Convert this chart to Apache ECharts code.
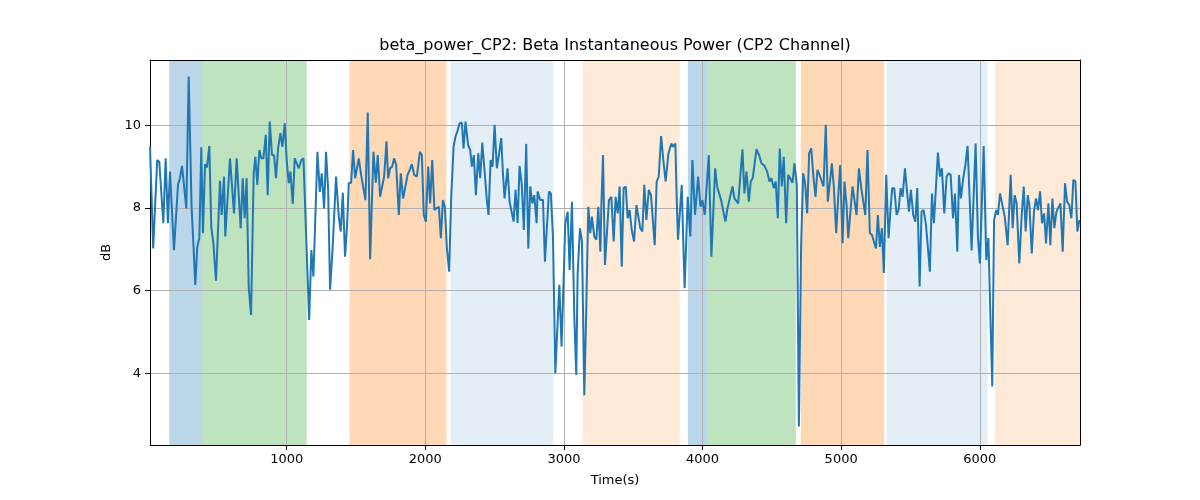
<!DOCTYPE html>
<html>
<head>
<meta charset="utf-8">
<script src="https://cdn.jsdelivr.net/npm/echarts@6/dist/echarts.min.js"></script>
<style>html,body{margin:0;padding:0;background:#fff}#chart{width:1200px;height:500px}</style>
</head>
<body>
<div id="chart"></div>
<script>
const timeSec = [14,37,66,81,110,127,143,158,187,216,230,245,276,293,314,341,355,370,384,396,411,425,442,456,471,490,519,531,548,
557,591,620,639,668,683,697,711,726,743,762,774,788,803,817,832,849,863,878,894,909,923,938,955,969,986,1000,1015,1027,1044,1058,1072,1087,1106,
1121,1162,1178,1193,1222,1239,1253,1270,1284,1299,1313,1332,1356,1376,1390,1405,1421,1436,1448,1465,1479,1494,1520,1537,1551,1568,1585,1602,1626,1643,1657,1674,
1703,1713,1720,1732,1746,1761,1775,1790,1809,1823,1840,1852,1872,1888,1903,1920,1939,1961,1975,1989,2004,2021,2035,2050,2066,2081,2098,2112,2127,2141,2156,2172,2187,2204,2218,2235,
2247,2264,2276,2290,2309,2324,2336,2350,2365,2382,2396,2411,2427,2444,2456,2471,2485,2500,2516,2531,2548,2560,2572,2581,2593,2608,2622,2637,2651,2666,2680,2695,2711,2728,2743,2757,2772,2786,2803,
2810,2829,2849,2863,2892,2906,2921,2938,2967,2983,3010,3027,3041,3058,3075,3089,3099,3116,3130,3147,3162,3176,3190,3202,3219,3234,3248,3263,3270,3282,3296,3325,3342,3359,
3373,3388,3402,3417,3431,3446,3460,3474,3489,3506,3523,3535,3551,3566,3580,3595,3612,3628,3655,3669,3684,3701,3717,3734,3754,3775,3787,3804,3814,3823,3850,3862,3871,3893,3912,3927,
3946,3968,3985,3999,4016,4045,4064,4091,4105,4119,4134,4148,4165,4180,4216,4230,4257,4288,4302,4317,4334,4348,4362,4389,4408,4425,4447,4466,4483,4497,
4514,4528,4543,4557,4572,4586,4603,4618,4632,4649,4663,4680,4695,4711,4726,4740,4755,4769,4784,4800,4815,4829,4844,4858,4873,4889,4904,4933,4947,4964,4979,4993,5010,5024,5039,5051,
5082,5111,5128,5147,5174,5190,5207,5222,5236,5251,5265,5279,5294,5308,5325,5342,5354,5368,5383,5400,5414,5429,5443,5460,5474,5489,5503,5520,5535,5549,5566,5580,5595,5612,
5626,5640,5655,5669,5698,5713,5727,5744,5761,5775,5790,5807,5821,5838,5850,5864,5879,5896,5912,5927,5941,5970,5987,6001,6028,6047,6062,6090,6103,6119,6131,6146,6160,6180,
6201,6223,6237,6252,6266,6285,6302,6317,6331,6346,6358,6375,6391,6406,6420,6435,6449,6464,6478,6495,6509,6524,6538,6553,6567,6582,6598,6615,6630,6646,6661,6675,6690,6704,6719];

const betaDb = [9.48,7.02,9.16,9.12,7.63,9.20,7.63,8.88,6.98,8.56,8.72,9.02,7.99,11.18,8.03,6.14,7.06,7.27,9.47,7.39,9.06,8.98,9.50,7.55,7.15,6.24,8.66,7.83,8.76,
7.31,9.20,7.87,9.20,7.51,8.72,7.75,8.72,6.10,5.41,8.84,9.24,8.56,9.40,9.20,9.20,9.77,8.31,10.09,9.28,9.28,8.72,9.44,9.81,9.48,10.05,9.16,8.60,8.88,8.10,9.20,9.24,8.96,9.16,
9.20,5.29,6.98,6.34,9.36,8.39,8.84,7.99,9.36,8.44,6.02,7.06,8.76,7.79,7.43,8.37,6.82,7.59,8.60,8.61,9.40,8.72,9.20,8.80,8.76,8.19,10.31,6.76,9.36,8.61,9.28,8.27,
8.76,8.72,9.61,8.72,8.96,9.00,9.20,9.04,7.83,8.84,8.23,8.19,8.80,8.92,9.06,8.80,8.76,9.36,9.28,7.83,7.67,9.00,8.11,9.16,7.95,7.99,8.03,7.27,8.19,8.03,7.02,6.46,8.27,9.48,9.73,9.89,
10.05,10.06,9.44,10.09,9.52,9.40,9.00,9.28,8.31,9.32,8.72,9.58,8.92,8.19,7.83,9.16,9.00,10.01,8.96,9.28,9.69,8.84,8.23,8.23,8.96,8.15,8.11,7.67,8.44,7.64,9.02,8.60,7.47,9.55,7.02,8.52,8.11,8.31,7.63,
8.40,8.19,8.19,6.70,8.40,8.35,7.31,4.00,6.14,4.64,7.63,7.91,6.50,8.15,5.37,3.96,6.42,7.51,7.19,3.47,5.69,8.03,7.39,7.79,7.31,7.23,8.03,6.94,8.03,9.28,6.62,8.19,8.27,7.19,
8.27,7.87,8.52,6.58,8.48,8.52,7.75,7.95,7.47,7.19,8.07,8.11,7.51,7.43,8.56,7.71,8.44,8.31,7.10,8.64,8.76,9.74,9.16,8.64,9.32,9.56,9.48,9.56,8.19,7.23,8.56,7.06,6.06,8.27,7.31,9.16,
7.83,8.76,8.03,8.19,7.83,9.28,6.82,8.96,8.52,8.52,8.19,8.23,7.67,7.99,8.52,8.23,8.11,9.42,8.35,8.88,8.15,8.64,8.72,9.42,9.28,9.08,9.02,8.88,8.64,8.72,
8.48,8.64,7.75,9.44,8.52,9.24,7.63,8.80,8.72,8.61,9.08,8.56,2.71,7.06,8.84,8.60,7.87,9.32,9.44,8.76,8.27,8.92,8.80,8.84,8.52,10.01,8.15,9.08,8.52,7.39,8.27,9.04,7.15,8.64,8.07,7.27,
8.52,7.83,8.96,8.44,7.83,9.40,7.39,7.35,7.19,7.02,7.83,7.06,7.51,6.43,8.80,7.27,7.87,8.48,8.48,7.83,7.95,8.48,8.27,8.96,8.44,7.91,8.44,7.83,7.67,8.48,6.10,7.91,7.95,7.59,
7.59,6.46,8.35,7.63,9.34,8.76,8.96,7.87,8.76,8.84,8.80,7.75,8.35,6.94,8.80,8.23,8.68,9.04,9.50,8.23,6.97,9.56,7.27,6.66,9.50,6.74,7.27,3.68,7.71,7.95,7.83,8.35,8.35,7.79,
7.10,8.80,7.51,8.31,8.11,6.66,7.79,8.52,7.43,8.31,8.07,6.90,7.91,8.23,7.95,8.40,7.63,7.87,7.14,8.11,7.10,8.23,7.51,7.91,7.91,8.11,6.94,8.60,8.15,8.07,7.75,8.68,8.64,7.43,7.71];

const regionStart = [153, 391, 1453, 2182, 3135, 3894, 4033, 4709, 5328, 6110];
const regionEnd   = [391, 1145, 2153, 2923, 3836, 4033, 4673, 5311, 6057, 6723];
const regionKind  = ['blue','green','orange','lightblue','lightorange','blue','green','orange','lightblue','lightorange'];
const xTicks = [1000, 2000, 3000, 4000, 5000, 6000];
const yTicks = [4, 6, 8, 10];

const kindColor = {
  blue: 'rgba(31,119,180,0.3)',
  green: 'rgba(44,160,44,0.3)',
  orange: 'rgba(255,127,14,0.3)',
  lightblue: 'rgba(31,119,180,0.12)',
  lightorange: 'rgba(255,127,14,0.16)'
};

const lineData = timeSec.map((t, i) => [t, betaDb[i]]);
const areas = regionStart.map((s, i) => [
  { xAxis: s, itemStyle: { color: kindColor[regionKind[i]] } },
  { xAxis: regionEnd[i] }
]);

const FONT = 'DejaVu Sans';
const chart = echarts.init(document.getElementById('chart'), null, { renderer: 'canvas' });
chart.setOption({
  animation: false,
  backgroundColor: '#ffffff',
  textStyle: { fontFamily: FONT },
  graphic: [{
    type: 'text', x: 615, y: 46, z: 10,
    style: { text: 'beta_power_CP2: Beta Instantaneous Power (CP2 Channel)', font: '16px "DejaVu Sans"', fill: '#000', textAlign: 'center', textVerticalAlign: 'middle' }
  }],
  grid: { left: 150, right: 120, top: 60, bottom: 55, containLabel: false },
  xAxis: [{
    type: 'value', min: 14, max: 6723, z: 2,
    name: 'Time(s)', nameLocation: 'middle', nameGap: 29,
    nameTextStyle: { fontFamily: FONT, fontSize: 13, color: '#000' },
    axisLine: { show: true, onZero: false, lineStyle: { color: '#000', width: 1 } },
    axisTick: { show: true, length: 5, customValues: xTicks, lineStyle: { color: '#000' } },
    axisLabel: { customValues: xTicks, formatter: v => String(v), margin: 8, fontFamily: FONT, fontSize: 13, color: '#000' },
    splitLine: { show: true, lineStyle: { color: '#b0b0b0', width: 1 } }
  }, {
    type: 'value', position: 'top', min: 14, max: 6723, z: 2,
    axisLine: { show: true, onZero: false, lineStyle: { color: '#000', width: 1 } },
    axisTick: { show: false }, axisLabel: { show: false }, splitLine: { show: false }
  }],
  yAxis: [{
    type: 'value', min: 2.265, max: 11.58, z: 2,
    name: 'dB', nameLocation: 'middle', nameGap: 34,
    nameTextStyle: { fontFamily: FONT, fontSize: 13, color: '#000' },
    axisLine: { show: true, onZero: false, lineStyle: { color: '#000', width: 1 } },
    axisTick: { show: true, length: 5, customValues: yTicks, lineStyle: { color: '#000' } },
    axisLabel: { customValues: yTicks, formatter: v => String(v), margin: 9, fontFamily: FONT, fontSize: 13, color: '#000' },
    splitLine: { show: true, lineStyle: { color: '#b0b0b0', width: 1 } }
  }, {
    type: 'value', position: 'right', min: 2.265, max: 11.58, z: 2,
    axisLine: { show: true, onZero: false, lineStyle: { color: '#000', width: 1 } },
    axisTick: { show: false }, axisLabel: { show: false }, splitLine: { show: false }
  }],
  series: [{
    type: 'line', z: 1, data: [], silent: true,
    markArea: { silent: true, data: areas }
  }, {
    type: 'line', z: 3, data: lineData, showSymbol: false, symbol: 'none',
    lineStyle: { color: '#1f77b4', width: 2 }, itemStyle: { color: '#1f77b4' }
  }]
});
</script>
</body>
</html>
